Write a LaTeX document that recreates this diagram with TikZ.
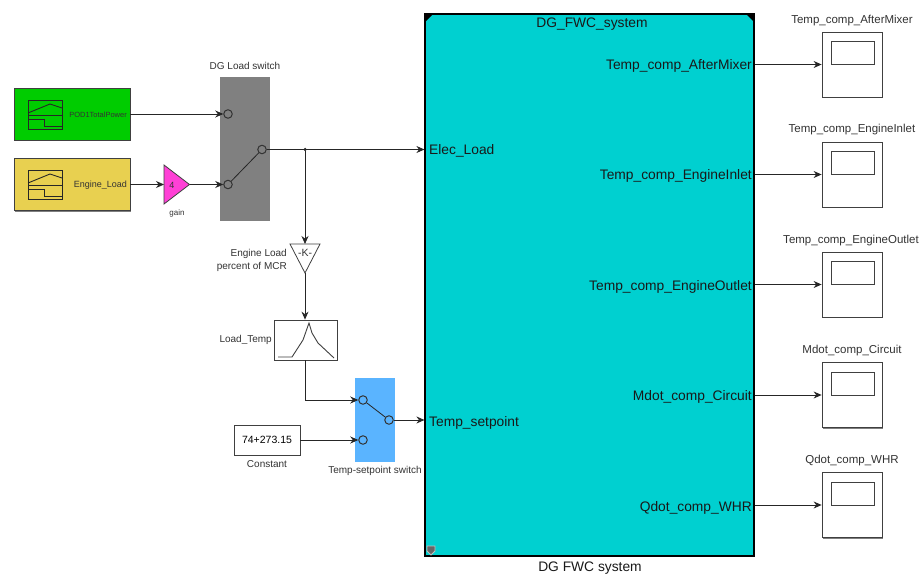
\documentclass[tikz,border=0pt]{standalone}
\usepackage{fontspec}
\setmainfont{Liberation Sans}
\usepackage{tikz}
\usetikzlibrary{arrows.meta, positioning, calc, shadows}

\begin{document}
\begin{tikzpicture}[x=1pt, y=-1pt, >={Stealth[length=8pt, width=7pt]},
    block/.style={draw=black!75, line width=0.8pt, inner sep=0pt, drop shadow={shadow xshift=1.2pt, shadow yshift=-1.2pt, opacity=0.5, fill=black}},
    port/.style={circle, draw=black!80, line width=1pt, minimum size=8.5pt, inner sep=0pt},
    wire/.style={draw=black!85, line width=0.8pt},
    lbl/.style={font=\fontsize{10}{11}\selectfont, text=black!80, inner sep=0pt},
    portlbl/.style={font=\fontsize{13.8}{15}\selectfont, text=black!90, inner sep=0pt},
    scopelbl/.style={lbl, font=\fontsize{11.5}{12}\selectfont},
    scopebox/.style={block, fill=white, minimum width=60pt, minimum height=65pt}]

    \useasboundingbox (0,0) rectangle (919,575);
    \fill[white] (0,0) rectangle (919,575);

    % Sources
    \node[block, fill={rgb,255:red,0;green,204;blue,0}, minimum width=116pt, minimum height=52pt] (power) at (72,114) {};
    \node[block, fill={rgb,255:red,232;green,208;blue,80}, minimum width=116pt, minimum height=52pt] (load) at (72,184.5) {};
    \node[lbl, font=\fontsize{7.5}{8}\selectfont, anchor=east] (powertxt) at (127,115) {POD1TotalPower};
    \node[lbl, font=\fontsize{9}{9}\selectfont, anchor=east] (loadtxt) at (127,185) {Engine\_Load};

    % Signal icons
    \begin{scope}[xshift=28pt, yshift=-100pt]
        \draw[line width=0.9pt, black!85] (0,0) rectangle (34,29);
        \draw[line width=0.9pt, black!85] (0,15) -- (34,15);
        \draw[line width=0.9pt, black!85] (0,13) -- (22,4) -- (34,8);
        \draw[line width=0.9pt, black!85] (0,19) -- (16,19) -- (16,26) -- (34,26);
    \end{scope}
    \begin{scope}[xshift=28pt, yshift=-170pt]
        \draw[line width=0.9pt, black!85] (0,0) rectangle (34,29);
        \draw[line width=0.9pt, black!85] (0,15) -- (34,15);
        \draw[line width=0.9pt, black!85] (0,13) -- (22,4) -- (34,8);
        \draw[line width=0.9pt, black!85] (0,19) -- (16,19) -- (16,26) -- (34,26);
    \end{scope}

    % Gain
    \node[coordinate] (gainin) at (164,184.5) {};
    \node[coordinate] (gainout) at (189.5,184.5) {};
    \draw[line width=0.8pt, black!75, fill={rgb,255:red,255;green,64;blue,214}] (164,165) -- (189.5,184.5) -- (164,204) -- cycle;
    \node[lbl, font=\fontsize{9}{9}\selectfont] (gainval) at (172,185) {4};
    \node[lbl, font=\fontsize{8}{8}\selectfont] (gainlbl) at (177,213) {gain};

    % DG load switch
    \node[fill={rgb,255:red,128;green,128;blue,128}, minimum width=50pt, minimum height=144pt, inner sep=0pt] (sw1) at (245,149) {};
    \node[lbl] (sw1lbl) at (245,66) {DG Load switch};
    \node[port] (p1) at (228,114) {};
    \node[port] (p2) at (228,184.5) {};
    \node[port] (p3) at (262,149.5) {};
    \draw[wire] (p2) -- (p3);

    % FWC system
    \node[draw=black, line width=1.2pt, fill={rgb,255:red,0;green,208;blue,208}, minimum width=329pt, minimum height=542pt, inner sep=0pt] (fwc) at (589.5,285) {};
    \fill (425,14) -- (433,14) -- (425,22) -- cycle;
    \fill (754,14) -- (746,14) -- (754,22) -- cycle;
    \draw[line width=0.8pt, draw=black!25, fill=black!60] (427,546) -- (435,546) -- (435,551) -- (431,555) -- (427,551) -- cycle;
    \node[portlbl] (fwctitle) at (592,24) {DG\_FWC\_system};
    \node[portlbl] (fwclbl) at (590,568) {DG FWC system};

    \node[portlbl, anchor=west] (elec) at (429,151) {Elec\_Load};
    \node[portlbl, anchor=west] (setp) at (429,423) {Temp\_setpoint};
    \node[portlbl, anchor=east] (o1) at (752,66) {Temp\_comp\_AfterMixer};
    \node[portlbl, anchor=east] (o2) at (752,176) {Temp\_comp\_EngineInlet};
    \node[portlbl, anchor=east] (o3) at (752,287) {Temp\_comp\_EngineOutlet};
    \node[portlbl, anchor=east] (o4) at (752,397) {Mdot\_comp\_Circuit};
    \node[portlbl, anchor=east] (o5) at (752,508) {Qdot\_comp\_WHR};

    % Engine load gain and lookup
    \draw[line width=0.8pt, black!75, fill=white] (290,244) -- (320,244) -- (305,273) -- cycle;
    \node[coordinate] (kin) at (305,244) {};
    \node[coordinate] (kout) at (305,273) {};
    \node[lbl, font=\fontsize{10.5}{10.5}\selectfont] (kval) at (305,252.5) {-K-};
    \node[lbl, align=right, anchor=east, font=\fontsize{10}{13}\selectfont] (klbl) at (287,260) {Engine Load\\percent of MCR};

    \node[block, fill=white, minimum width=63pt, minimum height=40pt] (lut) at (305.5,340) {};
    \draw[line width=0.9pt, black!75] (278,357) -- (292,357) -- (303,340) -- (309,323) -- (312,333) -- (318,343) -- (334,358);
    \node[lbl, anchor=east] (lutlbl) at (272,340) {Load\_Temp};

    \node[block, fill=white, minimum width=66pt, minimum height=30pt] (const) at (267,440) {\fontsize{10.5}{11}\selectfont 74+273.15};
    \node[lbl] (constlbl) at (267,464) {Constant};

    % Temp-setpoint switch
    \node[fill={rgb,255:red,90;green,180;blue,255}, minimum width=40pt, minimum height=84pt, inner sep=0pt] (sw2) at (375,420) {};
    \node[lbl] (sw2lbl) at (375,471) {Temp-setpoint switch};
    \node[port] (q1) at (363,400) {};
    \node[port] (q2) at (363,440) {};
    \node[port] (q3) at (389,420) {};
    \draw[wire] (q1) -- (q3);

    % Scopes
    \node[scopebox] (s1) at (852,64.5) {};
    \node[scopebox] (s2) at (852,174.5) {};
    \node[scopebox] (s3) at (852,284.5) {};
    \node[scopebox] (s4) at (852,395) {};
    \node[scopebox] (s5) at (852,505) {};
    \draw[line width=0.8pt, black!75] (831,41) rectangle (874,64);
    \draw[line width=0.8pt, black!75] (831,151) rectangle (874,174);
    \draw[line width=0.8pt, black!75] (831,261) rectangle (874,284);
    \draw[line width=0.8pt, black!75] (831,372) rectangle (874,395);
    \draw[line width=0.8pt, black!75] (831,482) rectangle (874,505);
    \node[scopelbl] (s1lbl) at (852,21) {Temp\_comp\_AfterMixer};
    \node[scopelbl] (s2lbl) at (852,130) {Temp\_comp\_EngineInlet};
    \node[scopelbl] (s3lbl) at (851,241) {Temp\_comp\_EngineOutlet};
    \node[scopelbl] (s4lbl) at (852,351) {Mdot\_comp\_Circuit};
    \node[scopelbl] (s5lbl) at (852,461) {Qdot\_comp\_WHR};

    % Connections
    \draw[wire, ->] (power.east) -- (p1.west);
    \draw[wire, ->] (load.east) -- (gainin);
    \draw[wire, ->] (gainout) -- (p2.west);
    \draw[wire, ->] (p3.east) -- (fwc.west |- p3);
    \node[circle, fill=black!85, minimum size=3.5pt, inner sep=0pt] (junc) at (305,149.5) {};
    \draw[wire, ->] (junc) -- (kin);
    \draw[wire, ->] (kout) -- (lut.north -| kout);
    \draw[wire, ->] (lut.south -| kout) |- (q1.west);
    \draw[wire, ->] (const.east) -- (q2.west);
    \draw[wire, ->] (q3.east) -- (fwc.west |- q3);
    \draw[wire, ->] (fwc.east |- s1) -- (s1.west);
    \draw[wire, ->] (fwc.east |- s2) -- (s2.west);
    \draw[wire, ->] (fwc.east |- s3) -- (s3.west);
    \draw[wire, ->] (fwc.east |- s4) -- (s4.west);
    \draw[wire, ->] (fwc.east |- s5) -- (s5.west);
\end{tikzpicture}
\end{document}
